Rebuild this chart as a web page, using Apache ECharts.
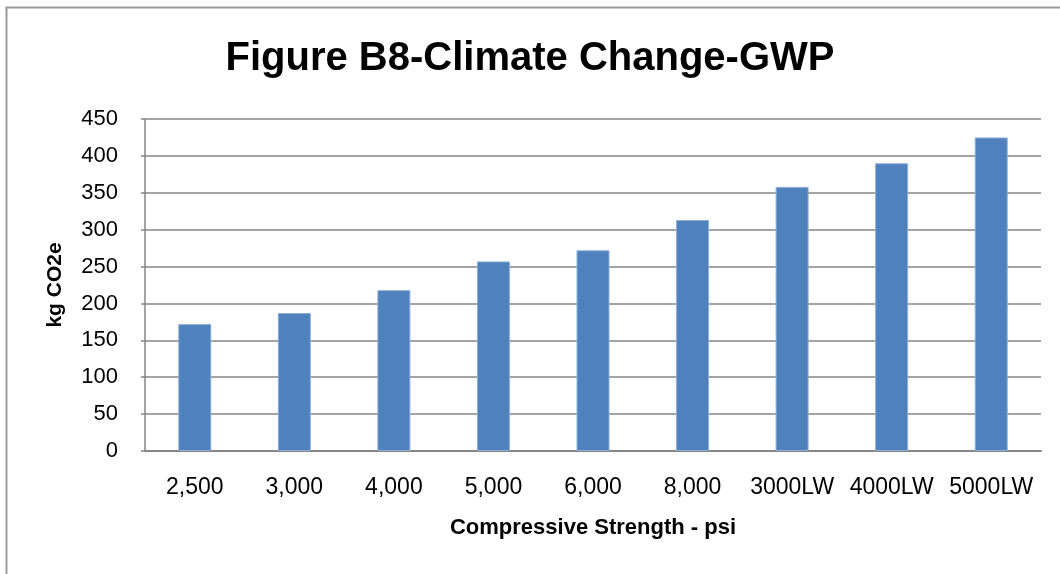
<!DOCTYPE html>
<html>
<head>
<meta charset="utf-8">
<script src="https://cdn.jsdelivr.net/npm/echarts@6/dist/echarts.min.js"></script>
<style>
html,body{margin:0;padding:0;background:#fff;}
#chart{width:1060px;height:574px;}
</style>
</head>
<body>
<div id="chart"></div>
<script>
const categories = ['2,500','3,000','4,000','5,000','6,000','8,000','3000LW','4000LW','5000LW'];
const values = [172, 187, 218, 257, 272, 313, 358, 390, 425];
const yTicks = {min: 0, max: 450, interval: 50};
const titleText = 'Figure B8-Climate Change-GWP';
const xName = 'Compressive Strength - psi';
const yName = 'kg CO2e';

const chart = echarts.init(document.getElementById('chart'), null, {renderer: 'canvas'});
const font = 'Liberation Sans';
chart.setOption({
  animation: false,
  backgroundColor: '#ffffff',
  graphic: [{
    type: 'rect', left: 4, top: 5, z: -1,
    shape: {x: 0, y: 0, width: 1100, height: 620},
    style: {fill: 'none', stroke: '#9a9a9a', lineWidth: 2}
  }],
  title: {
    text: titleText, left: 'center', top: 34,
    textStyle: {fontFamily: font, fontWeight: 'bold', fontSize: 40, color: '#000'}
  },
  grid: {left: 145, right: 19, top: 119, bottom: 123, containLabel: false},
  xAxis: {
    type: 'category', data: categories,
    name: xName, nameLocation: 'middle', nameGap: 66,
    nameTextStyle: {fontFamily: font, fontWeight: 'bold', fontSize: 22, color: '#000'},
    axisLine: {show: true, lineStyle: {color: '#868686', width: 2}},
    axisTick: {show: false},
    axisLabel: {fontFamily: font, fontSize: 23, color: '#000', margin: 25, interval: 0}
  },
  yAxis: {
    type: 'value', min: yTicks.min, max: yTicks.max, interval: yTicks.interval,
    name: yName, nameLocation: 'middle', nameGap: 79, nameRotate: 90,
    nameTextStyle: {fontFamily: font, fontWeight: 'bold', fontSize: 21, color: '#000'},
    axisLine: {show: true, lineStyle: {color: '#868686', width: 1.5}},
    axisTick: {show: true, length: 4, lineStyle: {color: '#868686', width: 1.5}},
    splitLine: {show: true, lineStyle: {color: '#868686', width: 1.5}},
    axisLabel: {fontFamily: font, fontSize: 22, color: '#000', margin: 27}
  },
  series: [{
    type: 'bar', data: values, barWidth: 33,
    itemStyle: {color: '#4F81BD', borderColor: '#8DAFD9', borderWidth: 1}
  }]
});
</script>
</body>
</html>
